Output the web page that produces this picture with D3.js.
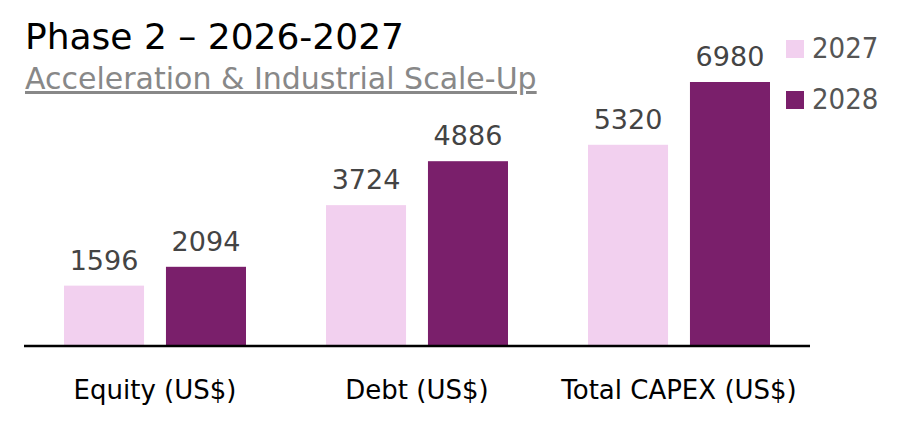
<!DOCTYPE html>
<html><head><meta charset="utf-8">
<script src="https://cdn.jsdelivr.net/npm/d3@7"></script>
<style>body{margin:0;background:#fff}svg{display:block}</style>
</head><body>
<svg id="c" width="901" height="436"></svg>
<script>
const categories = ["Equity (US$)", "Debt (US$)", "Total CAPEX (US$)"];
const seriesNames = ["2027", "2028"];
const values2027 = [1596, 3724, 5320];
const values2028 = [2094, 4886, 6980];
const colors = ["#f2d0ef", "#7a1f6b"];

const font = "'DejaVu Sans',sans-serif";
const fontC = "'DejaVu Sans Condensed','DejaVu Sans',sans-serif";
const svg = d3.select("#c");
const base = 346;
const x0 = d3.scaleBand().domain(categories).range([24, 810]).paddingInner(0).paddingOuter(0);
const x1 = d3.scaleBand().domain(seriesNames).range([40, x0.bandwidth() - 40]).paddingInner(0.215);
const y = d3.scaleLinear().domain([0, 6980]).range([base, 82]);

const data = categories.map((c, i) => ({c, vals: [values2027[i], values2028[i]]}));

const g = svg.append("g");
data.forEach(d => {
  d.vals.forEach((v, j) => {
    const bx = x0(d.c) + x1(seriesNames[j]);
    g.append("rect").attr("x", bx).attr("y", y(v)).attr("width", x1.bandwidth()).attr("height", base - y(v)).attr("fill", colors[j]);
    g.append("text").attr("x", bx + x1.bandwidth()/2).attr("y", y(v) - 16)
      .attr("text-anchor", "middle").attr("font-family", font).attr("font-size", 27).attr("fill", "#444").text(v);
  });
});

const xAxis = svg.append("g").attr("transform", `translate(0,${base})`)
  .call(d3.axisBottom(x0).tickSize(0).tickPadding(35));
xAxis.select(".domain").attr("stroke", "#000").attr("stroke-width", 2.5).attr("d", "M24,0H810");
xAxis.selectAll("text").attr("font-family", font).attr("font-size", 26).attr("fill", "#000");

svg.append("text").attr("x", 25).attr("y", 49).attr("font-family", font).attr("font-size", 36).attr("fill", "#000").text("Phase 2 – 2026-2027");
svg.append("text").attr("x", 25).attr("y", 89).attr("font-family", font).attr("font-size", 30).attr("fill", "#888")
  .attr("text-decoration", "underline").text("Acceleration & Industrial Scale-Up");

const leg = svg.append("g");
seriesNames.forEach((s, i) => {
  leg.append("rect").attr("x", 786).attr("y", 40 + i*51).attr("width", 18).attr("height", 18).attr("fill", colors[i]);
  leg.append("text").attr("x", 812).attr("y", 58 + i*51).attr("font-family", fontC).attr("font-size", 29).attr("fill", "#555").text(s);
});
</script>
</body></html>
